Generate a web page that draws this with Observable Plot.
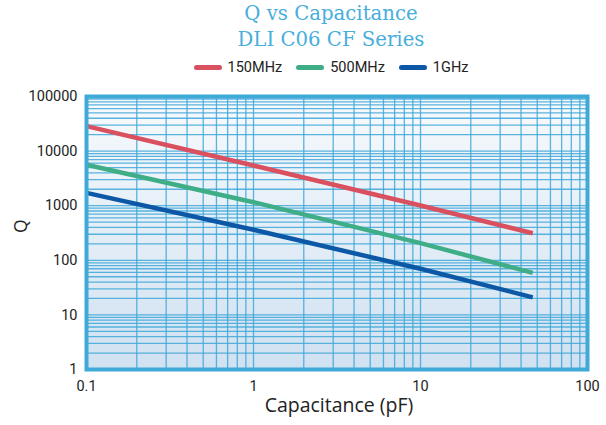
<!DOCTYPE html>
<html>
<head>
<meta charset="utf-8">
<script src="https://cdn.jsdelivr.net/npm/d3@7"></script>
<script src="https://cdn.jsdelivr.net/npm/@observablehq/plot@0.6"></script>
<style>
  html, body { margin: 0; padding: 0; background: #fff; }
  #wrap { position: relative; width: 606px; height: 425px; overflow: hidden; }
  #title { position: absolute; left: 0; width: 662px; top: 1px; text-align: center;
           font-family: "DejaVu Serif", serif; font-size: 19.7px; line-height: 26px; color: #47aedd; }
  #legend { position: absolute; left: 0; width: 662px; top: 59px; display: flex; justify-content: center;
            font-family: Roboto, sans-serif; font-size: 14.5px; color: #222; }
  .item { display: flex; align-items: center; margin: 0 7px; }
  .sw { width: 28px; height: 4.5px; border-radius: 3px; margin-right: 6px; }
  #chart { position: absolute; left: 0; top: 80px; }
</style>
</head>
<body>
<div id="wrap">
  <div id="title"></div>
  <div id="legend"></div>
  <div id="chart"></div>
</div>
<script>
const titleLines = ["Q vs Capacitance", "DLI C06 CF Series"];
const seriesNames = ["150MHz", "500MHz", "1GHz"];
const seriesColors = ["#d9505f", "#3fae87", "#0c58a6"];
const caps = [0.1, 1, 10, 47];
const q150 = [28600, 5450, 1010, 313];
const q500 = [5610, 1160, 206, 59];
const q1g = [1720, 362, 70, 21];
const xTickLabels = [0.1, 1, 10, 100];
const yTickLabels = [1, 10, 100, 1000, 10000, 100000];

document.getElementById("title").innerHTML = titleLines.map(t => `<div>${t}</div>`).join("");
document.getElementById("legend").innerHTML = seriesNames.map((n, i) =>
  `<div class="item"><span class="sw" style="background:${seriesColors[i]}"></span>${n}</div>`).join("");

const seriesValues = [q150, q500, q1g];
const rows = seriesNames.flatMap((s, i) => caps.map((c, j) => ({series: s, cap: c, q: seriesValues[i][j]})));

const xGrid = d3.scaleLog().domain([0.1, 100]).ticks();
const yGrid = d3.scaleLog().domain([1, 100000]).ticks();

const gridColor = "#3ea7d8";

const chart = Plot.plot({
  width: 606,
  height: 345,
  marginTop: 16,
  marginBottom: 56,
  marginLeft: 86,
  marginRight: 19,
  style: {fontFamily: "Roboto, sans-serif", fontSize: "14.5px", color: "#222", background: "transparent"},
  x: {type: "log", domain: [0.1, 100], label: null},
  y: {type: "log", domain: [1, 100000], label: null},
  color: {domain: seriesNames, range: seriesColors},
  marks: [
    () => {
      const defs = d3.create("svg:defs");
      const g = defs.append("linearGradient").attr("id", "bg")
        .attr("x1", 0).attr("y1", 0).attr("x2", 0).attr("y2", 1);
      g.append("stop").attr("offset", "0%").attr("stop-color", "#f7fafd");
      g.append("stop").attr("offset", "100%").attr("stop-color", "#d0e1f1");
      return defs.node();
    },
    Plot.frame({fill: "url(#bg)"}),
    Plot.gridX(xGrid, {stroke: gridColor, strokeOpacity: 0.85, strokeWidth: 1.3}),
    Plot.gridY(yGrid, {stroke: gridColor, strokeOpacity: 0.85, strokeWidth: 1.3}),
    Plot.line(rows, {x: "cap", y: "q", z: "series", stroke: "series", strokeWidth: 4.5, strokeLinecap: "butt"}),
    Plot.frame({stroke: "#3fa9d8", strokeWidth: 4}),
    Plot.axisX(xTickLabels, {tickSize: 0, tickPadding: 11, tickFormat: d => String(d), label: null}),
    Plot.axisY(yTickLabels, {tickSize: 0, tickPadding: 9, tickFormat: d => String(d), label: null}),
    Plot.text(["Capacitance (pF)"], {frameAnchor: "bottom", dy: 42, fontSize: 19.5, fontFamily: "'Open Sans', sans-serif", fill: "#222", dx: 2}),
    Plot.text(["Q"], {frameAnchor: "left", dx: -65, rotate: -90, fontSize: 17.5, fontFamily: "'Open Sans', sans-serif", fill: "#222"})
  ]
});
document.getElementById("chart").appendChild(chart);
</script>
</body>
</html>
